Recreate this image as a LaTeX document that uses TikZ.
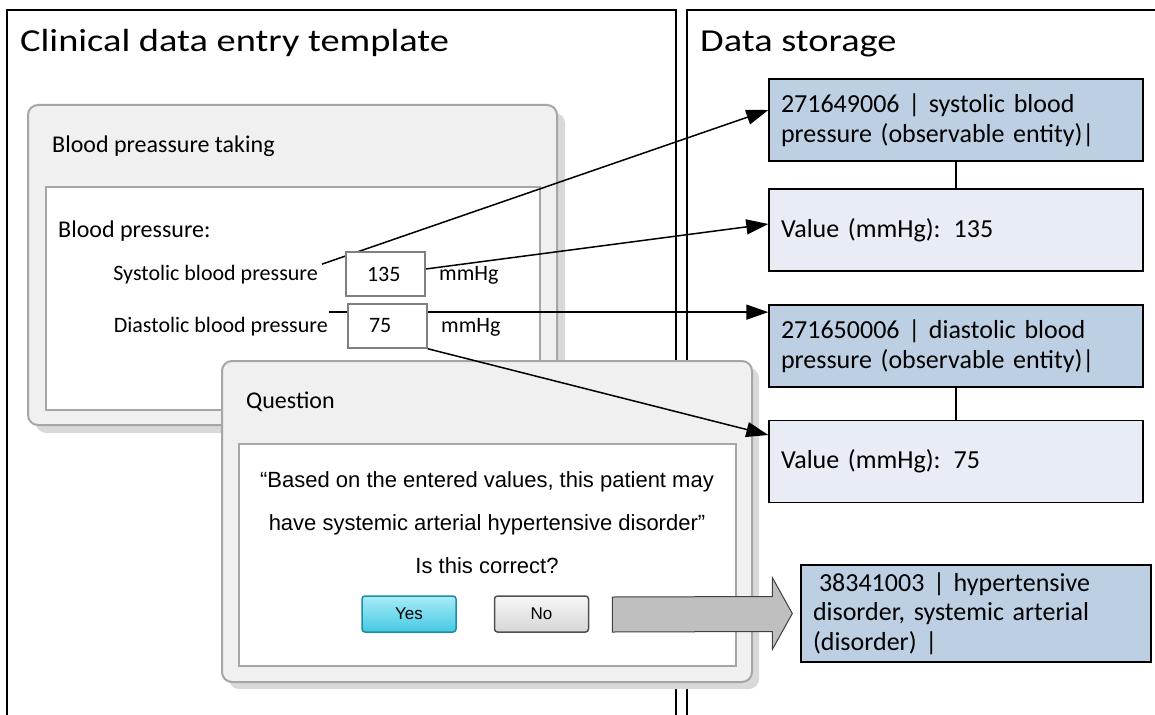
\documentclass[tikz,border=0pt]{standalone}
\usepackage{fontspec}
\setmainfont{Carlito}
\newfontfamily\titlefont[FakeStretch=1.2]{Carlito}
\newfontfamily\arialfont{Liberation Sans}
\usetikzlibrary{arrows.meta,calc}
\pgfdeclarelayer{front}
\pgfsetlayers{main,front}
\definecolor{winfill}{HTML}{F0F0F0}
\definecolor{winedge}{HTML}{A6A6A6}
\definecolor{winshade}{HTML}{D9D9D9}
\definecolor{darkbox}{HTML}{BDCFE2}
\definecolor{lightbox}{HTML}{E8EDF5}
\definecolor{grayarrow}{HTML}{BFBFBF}
\definecolor{yestop}{HTML}{A8ECF8}
\definecolor{yesmid}{HTML}{6FD8EC}
\definecolor{yesbot}{HTML}{45C9E3}
\definecolor{yesedge}{HTML}{1C8EA3}
\definecolor{notop}{HTML}{F7F7F7}
\definecolor{nobot}{HTML}{D6D6D6}
\definecolor{noedge}{HTML}{505050}
\begin{document}
\begin{tikzpicture}[x=1pt,y=-1pt,
 panel/.style={draw=black,line width=1.4pt},
 shade/.style={fill=winshade,rounded corners=10pt},
 window/.style={draw=winedge,fill=winfill,line width=2pt,rounded corners=10pt},
 innerpanel/.style={draw=winedge,fill=white,line width=2pt},
 title/.style={font=\titlefont\fontsize{32}{38}\selectfont,inner sep=0pt,anchor=base west},
 wtitle/.style={font=\fontsize{24}{29}\selectfont,inner sep=0pt,anchor=base west},
 formlbl/.style={font=\fontsize{22}{26}\selectfont,inner sep=0pt},
 valbox/.style={draw=gray,fill=white,line width=1.5pt,minimum width=79pt,minimum height=44pt,text width=37pt,inner xsep=21pt,align=left,font=\fontsize{22}{26}\selectfont},
 store/.style={draw=black,line width=1.4pt,minimum width=374pt,minimum height=82pt,text width=350pt,inner xsep=12pt,align=left,font=\fontsize{26}{30}\selectfont},
 darkstore/.style={store,fill=darkbox},
 lightstore/.style={store,fill=lightbox},
 qtext/.style={font=\arialfont\fontsize{22}{26}\selectfont,anchor=base,inner sep=0pt},
 button/.style={rounded corners=3pt,line width=1.5pt,minimum width=94pt,minimum height=36pt,font=\arialfont\fontsize{17}{20}\selectfont},
 link/.style={line width=1.5pt,-{Triangle[length=22pt,width=15pt]}},
 tie/.style={line width=1.4pt}
]
\useasboundingbox (0,0) rectangle (1155,714);
\fill[white] (0,0) rectangle (1155,714);
\begin{scope}
\clip (0,0) rectangle (1155,714);
\draw[panel] (7,730) -- (7,10) -- (676,10) -- (676,730);
\draw[panel] (687,730) -- (687,10) -- (1170,10);
\end{scope}
\node[title] (lefttitle) at (20,52) {Clinical data entry template};
\node[title] (righttitle) at (700,52) {Data storage};
% blood pressure window
\fill[shade] (36,113) rectangle (565,433);
\draw[window] (28,105) rectangle (557,425);
\draw[innerpanel] (46,187) rectangle (540,410);
\node[wtitle] (bptitle) at (52,153) {Blood preassure taking};
\node[wtitle] (bplabel) at (58,237) {Blood pressure:};
\node[formlbl,anchor=base east] (syslab) at (318,280) {Systolic blood pressure};
\node[formlbl,anchor=base east] (dialab) at (328,332) {Diastolic blood pressure};
\begin{pgfonlayer}{front}
\node[valbox] (v135) at (385.5,274) {135};
\node[valbox] (v75) at (387.5,326) {75};
\end{pgfonlayer}
\node[formlbl,anchor=base west] (unit1) at (439,280) {mmHg};
\node[formlbl,anchor=base west] (unit2) at (441,332) {mmHg};
% question window
\fill[shade] (229,368) rectangle (759,689);
\draw[window] (222,361) rectangle (752,682);
\draw[innerpanel] (239,444) rectangle (736,666);
\node[wtitle] (qtitle) at (246,408) {Question};
\node[qtext] (q1) at (487,487) {“Based on the entered values, this patient may};
\node[qtext] (q2) at (487,530) {have systemic arterial hypertensive disorder”};
\node[qtext] (q3) at (487,573) {Is this correct?};
\node[button,draw=yesedge,top color=yestop,middle color=yesmid,bottom color=yesbot] (yes) at (409,614) {Yes};
\node[button,draw=noedge,top color=notop,bottom color=nobot] (no) at (541.5,614) {No};
% data storage
\node[darkstore] (b1) at (956,120) {271649006 | systolic blood\\pressure (observable entity)|};
\node[lightstore] (b2) at (956,230) {Value (mmHg): 135};
\node[darkstore] (b3) at (956,346) {271650006 | diastolic blood\\pressure (observable entity)|};
\node[lightstore] (b4) at (956,461.5) {Value (mmHg): 75};
\node[darkstore,minimum width=350pt,minimum height=97pt,text width=326pt,font=\fontsize{26}{29.5}\selectfont] (b5) at (976,613.5) {\hspace*{6pt}38341003 | hypertensive\\disorder, systemic arterial\\(disorder) |};
\draw[tie] (b1) -- (b2);
\draw[tie] (b3) -- (b4);
% big gray arrow
\draw[fill=grayarrow,draw=black!75,line width=1pt] ($(no.east)+(23,-17)$) -- ($(b5.west)+(-28,-17)$) -- ($(b5.west)+(-28,-36)$) -- ($(b5.west)+(-8,0)$) -- ($(b5.west)+(-28,36)$) -- ($(b5.west)+(-28,18)$) -- ($(no.east)+(23,18)$) -- cycle;
% connectors
\draw[link] ($(syslab.east)+(4,-10)$) -- ($(b1.west)+(0,-10)$);
\draw[link] ($(v135.east)+(0,-5)$) -- ($(b2.west)+(0,-6)$);
\coordinate (a3s) at ($(dialab.east)+(1,-14)$);
\draw[link] (a3s) -- (a3s -| b3.west);
\draw[link] (v75.south east) -- ($(b4.west)+(0,-26.5)$);
\end{tikzpicture}
\end{document}
